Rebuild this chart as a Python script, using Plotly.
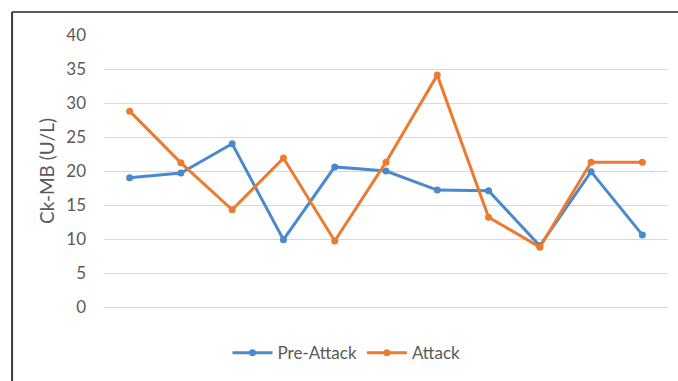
import plotly.graph_objects as go

# Eleven measurement points (x-axis carries no labels)
points = list(range(1, 12))
pre_attack = [19.0, 19.7, 24.0, 9.9, 20.6, 20.0, 17.2, 17.1, 9.0, 19.9, 10.6]
attack = [28.8, 21.2, 14.3, 21.9, 9.7, 21.3, 34.1, 13.2, 8.8, 21.3, 21.3]
y_ticks = [0, 5, 10, 15, 20, 25, 30, 35, 40]

BLUE = "#4a89cc"
ORANGE = "#ec7a30"
TEXT = "#595959"

fig = go.Figure()
fig.add_trace(go.Scatter(
    x=points, y=pre_attack, name="Pre-Attack", mode="lines+markers",
    line=dict(color=BLUE, width=3), marker=dict(size=7, color=BLUE),
))
fig.add_trace(go.Scatter(
    x=points, y=attack, name="Attack", mode="lines+markers",
    line=dict(color=ORANGE, width=3), marker=dict(size=7, color=ORANGE),
))

fig.update_layout(
    width=678, height=381,
    margin=dict(l=104, r=10, t=35, b=74),
    paper_bgcolor="white", plot_bgcolor="white",
    font=dict(family="Lato, 'Noto Sans', sans-serif", size=16, color=TEXT),
    showlegend=True,
    legend=dict(orientation="h", x=0.43, xanchor="center", y=-0.17, yanchor="middle",
                font=dict(size=17, color=TEXT), itemwidth=40, tracegroupgap=0),
    xaxis=dict(range=[0.5, 11.5], showticklabels=False, showgrid=False,
               zeroline=False, showline=False, ticks=""),
    yaxis=dict(range=[0, 40], tickvals=y_ticks, showgrid=True, gridcolor="#d9d9d9",
               gridwidth=1, zeroline=True, zerolinecolor="#d9d9d9", zerolinewidth=1,
               showline=False, ticks="",
               tickfont=dict(size=17, color=TEXT), ticklabelstandoff=17,
               title=dict(text="Ck-MB (U/L)", font=dict(size=19, color=TEXT), standoff=6)),
    shapes=[
        dict(type="line", xref="paper", yref="paper", x0=-0.163, x1=1.02, y0=1.0846, y1=1.0846,
             line=dict(color="#5a5a5a", width=2)),
        dict(type="line", xref="paper", yref="paper", x0=-0.163, x1=-0.163, y0=1.0846, y1=-0.28,
             line=dict(color="#3a3a3a", width=2)),
    ],
)

fig.write_html("out.html")
